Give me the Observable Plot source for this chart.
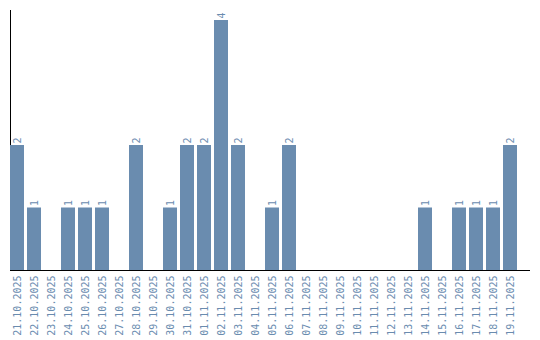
<!DOCTYPE html>
<html><head><meta charset="utf-8">
<script src="https://cdn.jsdelivr.net/npm/d3@7"></script>
<script src="https://cdn.jsdelivr.net/npm/@observablehq/plot@0.6"></script>
<style>body{margin:0;background:#fff}</style>
</head><body><div id="chart"></div>
<script>
const dates = ["21.10.2025","22.10.2025","23.10.2025","24.10.2025","25.10.2025","26.10.2025","27.10.2025","28.10.2025","29.10.2025","30.10.2025","31.10.2025","01.11.2025","02.11.2025","03.11.2025","04.11.2025","05.11.2025","06.11.2025","07.11.2025","08.11.2025","09.11.2025","10.11.2025","11.11.2025","12.11.2025","13.11.2025","14.11.2025","15.11.2025","16.11.2025","17.11.2025","18.11.2025","19.11.2025"];
const counts = [2,1,0,1,1,1,0,2,0,1,2,2,4,2,0,1,2,0,0,0,0,0,0,0,1,0,1,1,1,2];
const data = dates.map((d, i) => ({date: d, count: counts[i]}));
const nonzero = data.filter(d => d.count > 0);
const color = "#6a8caf";
const font = "DejaVu Sans Mono";
const chart = Plot.plot({
  width: 540, height: 340,
  marginTop: 10, marginLeft: 10, marginRight: 10, marginBottom: 70,
  style: {fontFamily: font, fontSize: "10px", background: "#fff"},
  x: {domain: dates, range: [10, 517], paddingInner: 0.18, paddingOuter: 0, label: null},
  y: {domain: [0, 4.16], axis: null},
  marks: [
    Plot.frame({anchor: "left", stroke: "#000", strokeWidth: 1}),
    Plot.barY(data, {x: "date", y: "count", fill: color}),
    Plot.text(nonzero, {x: "date", y: "count", text: d => String(d.count), rotate: -90, textAnchor: "start", dy: -2, fill: color, fontSize: 10, fontFamily: font}),
    Plot.axisX({tickSize: 0, tickPadding: 5, tickRotate: -90, fill: color, fontSize: 10, fontFamily: font, label: null}),
    Plot.ruleY([0], {stroke: "#000", strokeWidth: 1.2})
  ]
});
document.getElementById("chart").append(chart);
</script>
</body></html>
